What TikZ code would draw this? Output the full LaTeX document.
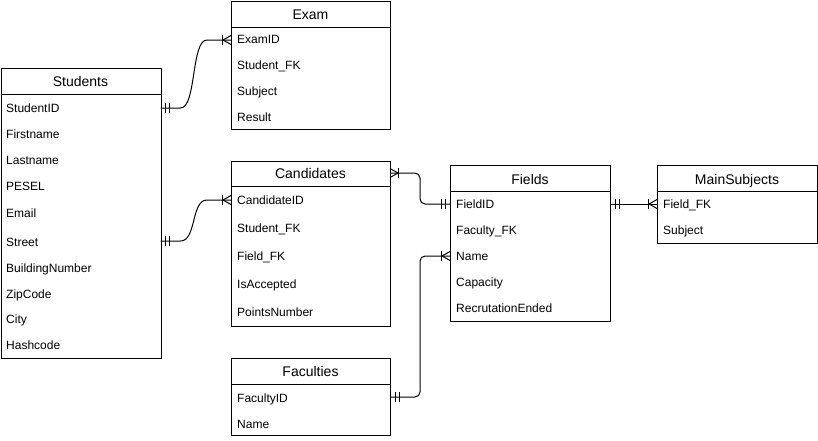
\documentclass[tikz,border=0pt]{standalone}
\usepackage{fontspec}
\setmainfont{Liberation Sans}
\usetikzlibrary{calc}
\tikzset{
  tbox/.style={draw=black, line width=1pt, fill=white, inner sep=0pt, anchor=north west},
  ttitle/.style={inner sep=0pt, anchor=base, font=\fontsize{14}{16}\selectfont},
  trow/.style={inner sep=0pt, anchor=base west, font=\fontsize{12}{14}\selectfont},
  conn/.style={draw=black, line width=1pt},
  mk/.style={draw=black, line width=1pt}
}
% mandatory one: ticks at 5 and 9 from end, dir = +1/-1 away from box
\newcommand\markone[2]{%
  \draw[mk] ($(#1)+(#2*5,-5)$) -- ($(#1)+(#2*5,5)$);
  \draw[mk] ($(#1)+(#2*9,-5)$) -- ($(#1)+(#2*9,5)$);}
% one or many: bar at 8, fork from 8 to edge
\newcommand\markmany[2]{%
  \draw[mk] ($(#1)+(#2*8.5,-5)$) -- ($(#1)+(#2*8.5,5)$);
  \draw[mk] ($(#1)+(0,-4.5)$) -- ($(#1)+(#2*8,0)$) -- ($(#1)+(0,4.5)$);}
\begin{document}
\begin{tikzpicture}[x=1pt,y=-1pt]
\useasboundingbox (0,0) rectangle (818,440);

% ---------- Students ----------
\node[tbox, minimum width=160pt, minimum height=290pt] (students) at (0.5,68) {};
\draw[line width=1pt] (0.5,94) -- (160.5,94);
\node[ttitle] (studentsT) at (80.5,86) {Students};
\node[trow] (s1) at (6,112.5) {StudentID};
\node[trow] (s2) at (6,138.5) {Firstname};
\node[trow] (s3) at (6,164) {Lastname};
\node[trow] (s4) at (6,190) {PESEL};
\node[trow] (s5) at (6,217) {Email};
\node[trow] (s6) at (6,246) {Street};
\node[trow] (s7) at (6,272) {BuildingNumber};
\node[trow] (s8) at (6,298) {ZipCode};
\node[trow] (s9) at (6,323) {City};
\node[trow] (s10) at (6,349.5) {Hashcode};

% ---------- Exam ----------
\node[tbox, minimum width=159pt, minimum height=128pt] (exam) at (231,1) {};
\draw[line width=1pt] (231,27) -- (390,27);
\node[ttitle] (examT) at (310.5,19) {Exam};
\node[trow] (e1) at (237,43.5) {ExamID};
\node[trow] (e2) at (237,69.5) {Student\_FK};
\node[trow] (e3) at (237,95.5) {Subject};
\node[trow] (e4) at (237,121.5) {Result};

% ---------- Candidates ----------
\node[tbox, minimum width=159pt, minimum height=165pt] (cand) at (231,160.5) {};
\draw[line width=1pt] (231,186) -- (390,186);
\node[ttitle] (candT) at (310.5,178) {Candidates};
\node[trow] (c1) at (237,204) {CandidateID};
\node[trow] (c2) at (237,232) {Student\_FK};
\node[trow] (c3) at (237,260) {Field\_FK};
\node[trow] (c4) at (237,288) {IsAccepted};
\node[trow] (c5) at (237,316) {PointsNumber};

% ---------- Faculties ----------
\node[tbox, minimum width=159pt, minimum height=77pt] (fac) at (231,358) {};
\draw[line width=1pt] (231,384) -- (390,384);
\node[ttitle] (facT) at (310.5,376) {Faculties};
\node[trow] (fa1) at (237,402) {FacultyID};
\node[trow] (fa2) at (237,428) {Name};

% ---------- Fields ----------
\node[tbox, minimum width=160pt, minimum height=156pt] (fields) at (450,165) {};
\draw[line width=1pt] (450,191) -- (610,191);
\node[ttitle] (fieldsT) at (530,184) {Fields};
\node[trow] (f1) at (456,208.5) {FieldID};
\node[trow] (f2) at (456,234.5) {Faculty\_FK};
\node[trow] (f3) at (456,260.5) {Name};
\node[trow] (f4) at (456,286.5) {Capacity};
\node[trow] (f5) at (456,312.5) {RecrutationEnded};

% ---------- MainSubjects ----------
\node[tbox, minimum width=160pt, minimum height=78pt] (main) at (657,165) {};
\draw[line width=1pt] (657,191) -- (817,191);
\node[ttitle] (mainT) at (737,184) {MainSubjects};
\node[trow] (m1) at (663,208.5) {Field\_FK};
\node[trow] (m2) at (663,234.5) {Subject};

% ---------- connection points ----------
\coordinate (a1) at (160.5,108);
\coordinate (b1) at (231,40);
\coordinate (a2) at (160.5,241);
\coordinate (b2) at (231,200);
\coordinate (a3) at (390,173);
\coordinate (b3) at (450,204);
\coordinate (a4) at (610,204);
\coordinate (b4) at (657,204);
\coordinate (a5) at (390,397);
\coordinate (b5) at (450,256);

% Students.StudentID -> Exam.ExamID
\draw[conn] (a1) -- ($(a1)+(20,0)$) .. controls ($(a1)+(36,0)$) and ($(b1)+(-40,0)$) .. ($(b1)+(-24,0)$) -- (b1);
\markone{a1}{1}
\markmany{b1}{-1}

% Students.Street -> Candidates.CandidateID
\draw[conn] (a2) -- ($(a2)+(20,0)$) .. controls ($(a2)+(36,0)$) and ($(b2)+(-40,0)$) .. ($(b2)+(-24,0)$) -- (b2);
\markone{a2}{1}
\markmany{b2}{-1}

% Candidates -> Fields.FieldID
\draw[conn, rounded corners=5pt] (a3) -- (420,173) -- (420,204) -- (b3);
\markmany{a3}{1}
\markone{b3}{-1}

% Fields.FieldID -> MainSubjects.Field_FK
\draw[conn] (a4) -- (b4);
\markone{a4}{1}
\markmany{b4}{-1}

% Faculties.FacultyID -> Fields.Name
\draw[conn, rounded corners=5pt] (a5) -- (420,397) -- (420,256) -- (b5);
\markone{a5}{1}
\markmany{b5}{-1}

\end{tikzpicture}
\end{document}
